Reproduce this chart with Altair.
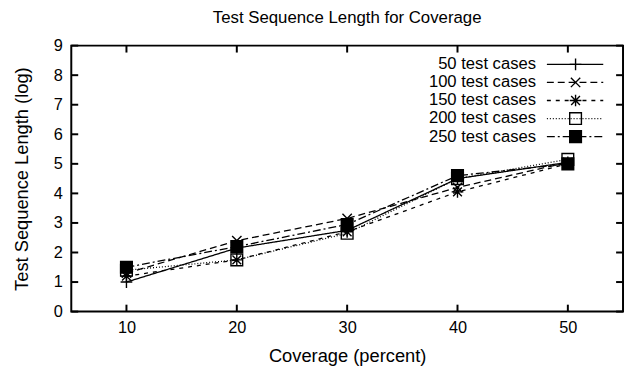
import altair as alt
import pandas as pd

coverage = [10, 20, 30, 40, 50]
series_names = ["50 test cases", "100 test cases", "150 test cases", "200 test cases", "250 test cases"]
s50 = [1.0, 2.15, 2.75, 4.5, 5.05]
s100 = [1.3, 2.4, 3.15, 4.2, 5.05]
s150 = [1.2, 1.75, 2.7, 4.05, 5.0]
s200 = [1.4, 1.75, 2.65, 4.5, 5.15]
s250 = [1.5, 2.2, 2.95, 4.6, 5.0]
x_ticks = [10, 20, 30, 40, 50]
y_ticks = [0, 1, 2, 3, 4, 5, 6, 7, 8, 9]

values = [s50, s100, s150, s200, s250]
rows = []
for name, vals in zip(series_names, values):
    for c, v in zip(coverage, vals):
        rows.append({"series": name, "coverage": c, "length": v})
df = pd.DataFrame(rows)
leg_df = pd.DataFrame({"series": series_names})
xt_df = pd.DataFrame({"t": x_ticks})
yt_df = pd.DataFrame({"t": y_ticks})

W, H = 558, 269
FONT = "Liberation Sans"

dash_scale = alt.Scale(domain=series_names,
                       range=[[1, 0], [7, 4], [4, 5], [1, 2], [8, 3, 2, 3]])
shape_scale = alt.Scale(domain=series_names, range=[
    "M-1,0L1,0M0,-1L0,1",
    "M-0.8,-0.8L0.8,0.8M-0.8,0.8L0.8,-0.8",
    "M-1,0L1,0M0,-1L0,1M-0.75,-0.75L0.75,0.75M-0.75,0.75L0.75,-0.75",
    "square",
    "square",
])
fill_scale = alt.Scale(domain=series_names,
                       range=["transparent", "transparent", "transparent", "transparent", "black"])

xs = alt.Scale(domain=[5, 55], nice=False)
ys = alt.Scale(domain=[0, 9], nice=False)

x_enc = alt.X("coverage:Q", scale=xs,
              axis=alt.Axis(values=x_ticks, ticks=False, domain=False, grid=False,
                            labelPadding=8, title="Coverage (percent)", titlePadding=11))
y_enc = alt.Y("length:Q", scale=ys,
              axis=alt.Axis(values=y_ticks, ticks=False, domain=False, grid=False,
                            labelPadding=9, title="Test Sequence Length (log)", titlePadding=22))

lines = alt.Chart(df).mark_line(color="black", strokeWidth=1.3).encode(
    x=x_enc, y=y_enc,
    detail="series:N",
    strokeDash=alt.StrokeDash("series:N", scale=dash_scale, legend=None),
)
points = alt.Chart(df).mark_point(color="black", stroke="black", strokeWidth=1.4, size=140, opacity=1).encode(
    x=alt.X("coverage:Q", scale=xs),
    y=alt.Y("length:Q", scale=ys, axis=None),
    shape=alt.Shape("series:N", scale=shape_scale, legend=None),
    fill=alt.Fill("series:N", scale=fill_scale, legend=None),
)

xt_bottom = alt.Chart(xt_df).mark_rule(color="black", strokeWidth=2).encode(
    x=alt.X("t:Q", scale=xs), y=alt.value(H), y2=alt.value(H - 7))
xt_top = alt.Chart(xt_df).mark_rule(color="black", strokeWidth=2).encode(
    x=alt.X("t:Q", scale=xs), y=alt.value(0), y2=alt.value(7))
yt_left = alt.Chart(yt_df).mark_rule(color="black", strokeWidth=2).encode(
    y=alt.Y("t:Q", scale=ys, axis=None), x=alt.value(0), x2=alt.value(7))
yt_right = alt.Chart(yt_df).mark_rule(color="black", strokeWidth=2).encode(
    y=alt.Y("t:Q", scale=ys, axis=None), x=alt.value(W), x2=alt.value(W - 7))

leg_y = alt.Y("series:N", scale=alt.Scale(type="point", domain=series_names, range=[19, 92], padding=0), axis=None)
leg_text = alt.Chart(leg_df).mark_text(align="right", baseline="middle", fontSize=16.8, font=FONT).encode(
    x=alt.value(470), y=leg_y, text="series:N")
leg_line = alt.Chart(leg_df).mark_rule(color="black", strokeWidth=1.3).encode(
    x=alt.value(481), x2=alt.value(538), y=leg_y,
    strokeDash=alt.StrokeDash("series:N", scale=dash_scale, legend=None))
leg_pt = alt.Chart(leg_df).mark_point(color="black", stroke="black", strokeWidth=1.4, size=140, opacity=1).encode(
    x=alt.value(510), y=leg_y,
    shape=alt.Shape("series:N", scale=shape_scale, legend=None),
    fill=alt.Fill("series:N", scale=fill_scale, legend=None))

chart = alt.layer(
    lines, points, xt_bottom, xt_top, yt_left, yt_right, leg_line, leg_pt, leg_text
).resolve_scale(y="independent").properties(
    width=W, height=H,
    background="white",
    autosize=alt.AutoSizeParams(type="none"),
    padding={"left": 64, "top": 36, "right": 2, "bottom": 56},
    title=alt.Title("Test Sequence Length for Coverage", fontSize=17, font=FONT,
                    fontWeight="normal", offset=11, anchor="middle"),
).configure_view(stroke="black", strokeWidth=2).configure_axis(
    labelFont=FONT, titleFont=FONT, labelFontSize=16.5, titleFontSize=18.5,
    labelColor="black", titleColor="black", titleFontWeight="normal",
)

chart.save("out.html", embed_options={"renderer": "svg", "actions": False})
